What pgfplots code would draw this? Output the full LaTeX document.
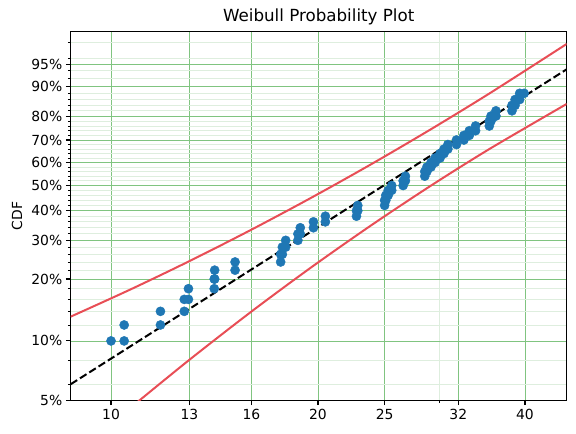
\documentclass[border=0pt]{standalone}
\usepackage{pgfplots}
\pgfplotsset{compat=1.18}
\usepackage{fontspec}
\setmainfont{DejaVu Sans}
\definecolor{pt}{HTML}{1F77B4}
\definecolor{bnd}{RGB}{232,78,86}
\definecolor{gmaj}{RGB}{128,196,128}
\definecolor{gmin}{RGB}{222,238,222}
\begin{document}
\begin{tikzpicture}
\path[use as bounding box] (-70.7pt,-33.7pt) rectangle (505.3pt,400.3pt);
\begin{axis}[
  at={(0pt,0pt)}, anchor=south west,
  scale only axis, width=496pt, height=368.6pt,
  xmode=log, xmin=8.737, xmax=46.0, ymin=-2.9702, ymax=1.4987,
  xtick={10,13,16,20,25,32,40}, xticklabels={10,13,16,20,25,32,40},
  minor xtick={30},
  ytick={-2.9702,-2.2504,-1.4999,-1.0309,-0.6717,-0.3665,-0.0874,0.1856,0.4759,0.8340,1.0972},
  yticklabels={5\%,10\%,20\%,30\%,40\%,50\%,60\%,70\%,80\%,90\%,95\%},
  minor ytick={-2.7827,-2.4843,-2.0570,-1.8917,-1.7467,-1.6172,-1.3925,-1.2931,-1.2003,-1.1132,-0.9528,-0.8782,-0.8068,-0.7381,-0.6075,-0.5450,-0.4843,-0.4248,-0.3093,-0.2530,-0.1973,-0.1422,-0.0330,0.0214,0.0759,0.1305,0.2413,0.2979,0.3557,0.4148,0.5393,0.6058,0.6760,0.7515,0.9266,1.0340,1.1690,1.3640},
  grid=both,
  major grid style={gmaj, line width=0.8pt},
  minor grid style={gmin, line width=0.8pt},
  tick align=outside, tick pos=left,
  major tick length=4.9pt, minor tick length=2.8pt,
  major tick style={black, line width=1.1pt},
  minor tick style={black, line width=0.85pt},
  axis line style={line width=1.1pt},
  tick label style={font=\fontsize{13.9}{16}\selectfont},
  /pgf/number format/assume math mode=true,
  title={Weibull Probability Plot},
  title style={font=\fontsize{16.7}{20}\selectfont, at={(0.5,1)}, anchor=south, yshift=-3pt},
  ylabel={CDF},
  ylabel style={font=\fontsize{13.9}{16}\selectfont, at={(axis description cs:-0.108,0.5)}, anchor=center, rotate=0},
  clip=true,
]
\addplot[bnd, line width=2pt, smooth] coordinates {
(8.737,-1.9558) (10.657,-1.6288) (13.029,-1.2791) (15.928,-0.9104) (19.473,-0.5227) (23.807,-0.1161) (29.105,0.3096) (35.584,0.7543) (46.004,1.3505)};
\addplot[bnd, line width=2pt, smooth] coordinates {
(10.657,-3.0664) (11.020,-2.9657) (13.029,-2.4731) (15.928,-1.9073) (19.473,-1.3690) (23.807,-0.8583) (29.105,-0.3750) (35.584,0.0807) (46.004,0.6230)};
\addplot[only marks, mark=*, mark size=4.6pt, pt, mark options={draw=none, fill=pt}] coordinates {
(10.0,-2.2504) (10.45,-2.2504)
(10.45,-2.0570) (11.8,-2.0570)
(11.8,-1.8917) (12.78,-1.8917)
(12.78,-1.7467) (12.96,-1.7467)
(12.96,-1.6172) (14.13,-1.6172)
(14.13,-1.4999) (14.15,-1.4999)
(14.15,-1.3925) (15.15,-1.3925)
(15.15,-1.2931) (17.65,-1.2931)
(17.65,-1.2003) (17.75,-1.2003)
(17.75,-1.1132) (17.95,-1.1132)
(17.95,-1.0309) (18.7,-1.0309)
(18.7,-0.9528) (18.85,-0.9528)
(18.85,-0.8782) (19.7,-0.8782)
(19.7,-0.8068) (20.5,-0.8068)
(20.5,-0.7381) (22.75,-0.7381)
(22.75,-0.6717) (22.85,-0.6717)
(22.85,-0.6075) (25.0,-0.6075)
(25.0,-0.5450) (25.1,-0.5450)
(25.1,-0.4843) (25.3,-0.4843)
(25.3,-0.4248) (25.6,-0.4248)
(25.6,-0.3665) (26.6,-0.3665)
(26.6,-0.3093) (26.8,-0.3093)
(26.8,-0.2530) (28.6,-0.2530)
(28.6,-0.1973) (28.8,-0.1973)
(28.8,-0.1422) (29.2,-0.1422)
(29.2,-0.0874) (29.6,-0.0874)
(29.6,-0.0330) (30.1,-0.0330)
(30.1,0.0214) (30.5,0.0214)
(30.5,0.0759) (30.9,0.0759)
(30.9,0.1305) (31.8,0.1305)
(31.8,0.1856) (32.6,0.1856)
(32.6,0.2413) (33.2,0.2413)
(33.2,0.2979) (33.9,0.2979)
(33.9,0.3557) (35.5,0.3557)
(35.5,0.4148) (35.7,0.4148)
(35.7,0.4759) (36.3,0.4759)
(36.3,0.5393) (38.3,0.5393)
(38.3,0.6058) (38.7,0.6058)
(38.7,0.6760) (39.3,0.6760)
(39.3,0.7515) (39.9,0.7515)
};
\addplot[black, line width=2pt, dash pattern=on 7.7pt off 3.3pt] coordinates {(8.737,-2.7753) (46.0,1.0429)};
\end{axis}
\end{tikzpicture}
\end{document}
